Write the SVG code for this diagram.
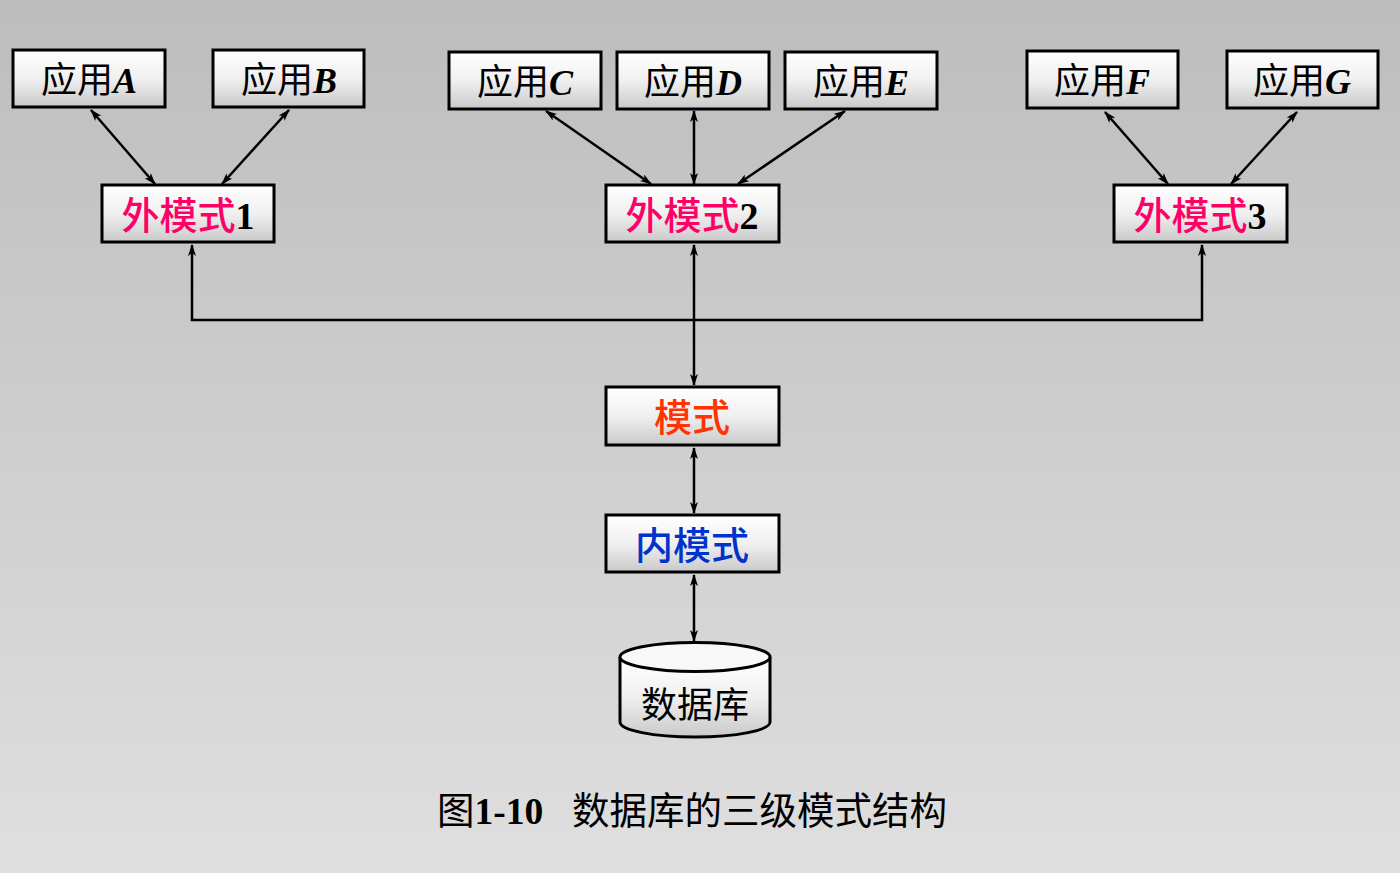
<svg xmlns="http://www.w3.org/2000/svg" width="1400" height="873" viewBox="0 0 1400 873">
<defs>
<linearGradient id="bg" x1="0" y1="0" x2="0" y2="1">
<stop offset="0" stop-color="#bdbdbd"/>
<stop offset="1" stop-color="#dfdfdf"/>
</linearGradient>
<linearGradient id="box" x1="0" y1="0" x2="0" y2="1">
<stop offset="0" stop-color="#ffffff"/>
<stop offset="0.5" stop-color="#f0f0f0"/>
<stop offset="1" stop-color="#c9c9c9"/>
</linearGradient>
<marker id="ah" viewBox="0 0 12 8" refX="11" refY="4" markerWidth="12" markerHeight="8" markerUnits="userSpaceOnUse" orient="auto-start-reverse">
<path d="M0,0 L12,4 L0,8 L3,4 z" fill="#000"/>
</marker>
</defs>
<style>
.box{fill:url(#box);stroke:#000;stroke-width:3}
.app{font-family:"Liberation Serif","Noto Sans CJK SC",serif;font-size:36px;fill:#000;text-anchor:middle}
.lat{font-weight:bold;font-style:italic}
.ext{font-family:"Noto Sans CJK SC",sans-serif;font-size:38px;font-weight:500;text-anchor:middle}
.num{font-family:"Liberation Serif",serif;font-weight:bold;fill:#000}
.con{fill:none;stroke:#000;stroke-width:2.5;marker-start:url(#ah);marker-end:url(#ah)}
.cap{font-family:"Liberation Serif","Noto Sans CJK SC",serif;font-size:37.5px;fill:#000}
</style>
<rect x="0" y="0" width="1400" height="873" fill="url(#bg)"/>

<g id="connectors">
<line class="con" x1="91" y1="110" x2="155" y2="184"/>
<line class="con" x1="289" y1="110" x2="222" y2="184"/>
<line class="con" x1="546" y1="111" x2="651" y2="184"/>
<line class="con" x1="694" y1="111" x2="694" y2="184"/>
<line class="con" x1="845" y1="111" x2="738" y2="184"/>
<line class="con" x1="1105" y1="112" x2="1168" y2="184"/>
<line class="con" x1="1297" y1="112" x2="1231" y2="184"/>
<polyline class="con" points="192,245 192,320 1202,320 1202,245"/>
<line class="con" x1="694" y1="245" x2="694" y2="385"/>
<line class="con" x1="694" y1="448" x2="694" y2="513"/>
<line class="con" x1="694" y1="575" x2="694" y2="641"/>
</g>

<g id="appA"><rect class="box" x="13" y="50" width="152" height="57"/><text class="app" x="89" y="93">应用<tspan class="lat">A</tspan></text></g>
<g id="appB"><rect class="box" x="213" y="50" width="151" height="57"/><text class="app" x="289" y="93">应用<tspan class="lat">B</tspan></text></g>
<g id="appC"><rect class="box" x="449" y="52" width="152" height="57"/><text class="app" x="525" y="95">应用<tspan class="lat">C</tspan></text></g>
<g id="appD"><rect class="box" x="617" y="52" width="152" height="57"/><text class="app" x="693" y="95">应用<tspan class="lat">D</tspan></text></g>
<g id="appE"><rect class="box" x="785" y="52" width="152" height="57"/><text class="app" x="861" y="95">应用<tspan class="lat">E</tspan></text></g>
<g id="appF"><rect class="box" x="1027" y="51" width="151" height="57"/><text class="app" x="1102" y="94">应用<tspan class="lat">F</tspan></text></g>
<g id="appG"><rect class="box" x="1227" y="51" width="151" height="57"/><text class="app" x="1302" y="94">应用<tspan class="lat">G</tspan></text></g>

<g id="ext1"><rect class="box" x="102" y="185" width="172" height="57"/><text class="ext" x="188" y="229"><tspan fill="#ff0066">外模式</tspan><tspan class="num">1</tspan></text></g>
<g id="ext2"><rect class="box" x="606" y="185" width="173" height="57"/><text class="ext" x="692" y="229"><tspan fill="#ff0066">外模式</tspan><tspan class="num">2</tspan></text></g>
<g id="ext3"><rect class="box" x="1114" y="185" width="173" height="57"/><text class="ext" x="1200" y="229"><tspan fill="#ff0066">外模式</tspan><tspan class="num">3</tspan></text></g>

<g id="schema"><rect class="box" x="606" y="387" width="173" height="58"/><text class="ext" x="692" y="431" fill="#ff3300">模式</text></g>
<g id="internal"><rect class="box" x="606" y="515" width="173" height="57"/><text class="ext" x="692" y="559" fill="#0033cc">内模式</text></g>

<g id="db">
<path d="M620,657 L620,722 A75,15 0 0 0 770,722 L770,657" fill="url(#box)" stroke="#000" stroke-width="3"/>
<ellipse cx="695" cy="657" rx="75" ry="14.5" fill="#f8f8f8" stroke="#000" stroke-width="3"/>
<text class="app" x="695" y="718">数据库</text>
</g>

<text class="cap" x="437" y="824">图<tspan font-weight="bold">1-10</tspan><tspan x="572">数据库的三级模式结构</tspan></text>
</svg>
